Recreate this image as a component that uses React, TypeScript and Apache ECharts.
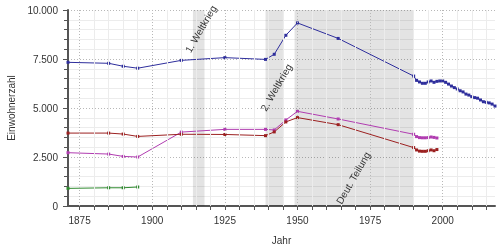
import React, { useEffect, useRef } from "react";
import * as echarts from "echarts";

const blueYears = [1871, 1885, 1890, 1895, 1910, 1925, 1939, 1942, 1946, 1950, 1964, 1990, 1991, 1992, 1993, 1994, 1995, 1996, 1997, 1998, 1999, 2000, 2001, 2002, 2003, 2004, 2005, 2006, 2007, 2008, 2009, 2010, 2011, 2012, 2013, 2014, 2015, 2016, 2017, 2018];
const blueValues = [7330, 7280, 7130, 7030, 7430, 7570, 7480, 7740, 8710, 9340, 8550, 6630, 6410, 6330, 6260, 6260, 6330, 6380, 6310, 6360, 6380, 6380, 6310, 6220, 6120, 6040, 5970, 5880, 5820, 5710, 5660, 5580, 5530, 5500, 5410, 5320, 5290, 5260, 5200, 5100];

const partYears = [1871, 1885, 1890, 1895, 1910, 1925, 1939, 1942, 1946, 1950, 1964, 1990, 1991, 1992, 1993, 1994, 1995, 1996, 1997, 1998];
const redValues = [3720, 3720, 3670, 3550, 3660, 3650, 3590, 3780, 4290, 4510, 4150, 2980, 2860, 2800, 2790, 2790, 2820, 2860, 2820, 2880];
const purpleValues = [2720, 2650, 2530, 2500, 3770, 3910, 3910, 3880, 4390, 4830, 4440, 3660, 3540, 3490, 3480, 3480, 3490, 3520, 3500, 3470];

const greenYears = [1871, 1885, 1890, 1895];
const greenValues = [900, 930, 930, 970];

const shadeStarts = [1914, 1939, 1949];
const shadeEnds = [1918, 1945, 1990];

const noteTexts = ["1. Weltkrieg", "2. Weltkrieg", "Deut. Teilung"];
const noteYears = [1916.7, 1942.7, 1969.2];
const noteValues = [9030, 6050, 1430];

const xMajorTicks = [1875, 1900, 1925, 1950, 1975, 2000];
const xMinorTicks = [1880, 1885, 1890, 1895, 1905, 1910, 1915, 1920, 1930, 1935, 1940, 1945, 1955, 1960, 1965, 1970, 1980, 1985, 1990, 1995, 2005, 2010, 2015];

const xMin = 1871;
const xMax = 2018;

const FONT = "'Liberation Sans', Arial, sans-serif";

function fmtDe(v: number): string {
  const s = String(Math.round(v));
  return s.replace(/\B(?=(\d{3})+(?!\d))/g, ".");
}

function pairs(xs: number[], ys: number[]) {
  return xs.map((x, i) => [x, ys[i]]);
}

export default function App() {
  const ref = useRef<HTMLDivElement>(null);
  useEffect(() => {
    if (!ref.current) return;
    const chart = echarts.init(ref.current, undefined, { renderer: "svg" });
    const mkLine = (name: string, data: number[][], color: string) => ({
      name,
      type: "line",
      data,
      z: 3,
      symbol: "rect",
      symbolSize: 3,
      lineStyle: { color, width: 1 },
      itemStyle: { color },
      emphasis: { disabled: true },
    });
    const allTicks = xMajorTicks.concat(xMinorTicks).sort((a, b) => a - b);
    chart.setOption({
      animation: false,
      textStyle: { fontFamily: FONT },
      grid: { left: 68, top: 10, right: 5, bottom: 44, containLabel: false, outerBoundsMode: "none" },
      xAxis: {
        type: "value",
        min: xMin,
        max: xMax,
        name: "Jahr",
        nameLocation: "middle",
        nameGap: 29,
        nameTextStyle: { fontSize: 10, color: "#333", fontFamily: FONT },
        axisLine: { show: true, onZero: false, lineStyle: { color: "#555", width: 2 } },
        axisTick: { show: true, length: 4, customValues: allTicks, lineStyle: { color: "#555" } },
        minorTick: { show: false },
        axisLabel: {
          fontSize: 10,
          color: "#333",
          margin: 9,
          customValues: xMajorTicks,
          formatter: (v: number) => String(v),
        },
        splitLine: { show: false },
        minorSplitLine: { show: false },
      },
      yAxis: {
        type: "value",
        min: 0,
        max: 10000,
        interval: 2500,
        name: "Einwohnerzahl",
        nameLocation: "middle",
        nameGap: 51,
        nameTextStyle: { fontSize: 10, color: "#333", fontFamily: FONT },
        axisLine: { show: true, lineStyle: { color: "#555", width: 2 } },
        axisTick: { show: true, length: 5, lineStyle: { color: "#555" } },
        minorTick: { show: true, splitNumber: 5, length: 4, lineStyle: { color: "#555" } },
        axisLabel: { fontSize: 10, color: "#333", margin: 10, formatter: (v: number) => fmtDe(v) },
        splitLine: { show: true, lineStyle: { color: "#b8b8b8", type: [1, 2] } },
        minorSplitLine: { show: true, lineStyle: { color: "#ececec" } },
      },
      series: [
        {
          name: "grid",
          type: "line",
          data: [],
          z: 1,
          silent: true,
          markLine: {
            silent: true,
            symbol: ["none", "none"],
            label: { show: false },
            emphasis: { disabled: true },
            data: [
              ...xMinorTicks.map((x) => ({ xAxis: x, lineStyle: { color: "#ececec", width: 1, type: "solid" } })),
              ...xMajorTicks.map((x) => ({ xAxis: x, lineStyle: { color: "#b8b8b8", width: 1, type: [1, 2] } })),
            ],
          },
          markArea: {
            silent: true,
            itemStyle: { color: "rgba(0,0,0,0.11)" },
            data: shadeStarts.map((s, i) => [{ xAxis: s }, { xAxis: shadeEnds[i] }]),
          },
        },
        mkLine("Gesamt", pairs(blueYears, blueValues), "#2e2e9c"),
        mkLine("Teil A", pairs(partYears, purpleValues), "#b03cb0"),
        mkLine("Teil B", pairs(partYears, redValues), "#9b2020"),
        mkLine("Teil C", pairs(greenYears, greenValues), "#2f8a2f"),
      ],
    });
    const graphics = noteTexts.map((t, i) => {
      const p = chart.convertToPixel({ gridIndex: 0 }, [noteYears[i], noteValues[i]]) as number[];
      return {
        type: "text",
        x: p[0],
        y: p[1],
        rotation: (60 * Math.PI) / 180,
        z: 10,
        silent: true,
        style: {
          text: t,
          fontSize: 10,
          fontFamily: FONT,
          fill: "#333",
          align: "center",
          verticalAlign: "middle",
        },
      };
    });
    chart.setOption({ graphic: graphics });
    return () => chart.dispose();
  }, []);
  return <div ref={ref} style={{ position: "fixed", left: 0, top: 0, width: 500, height: 250 }} />;
}
